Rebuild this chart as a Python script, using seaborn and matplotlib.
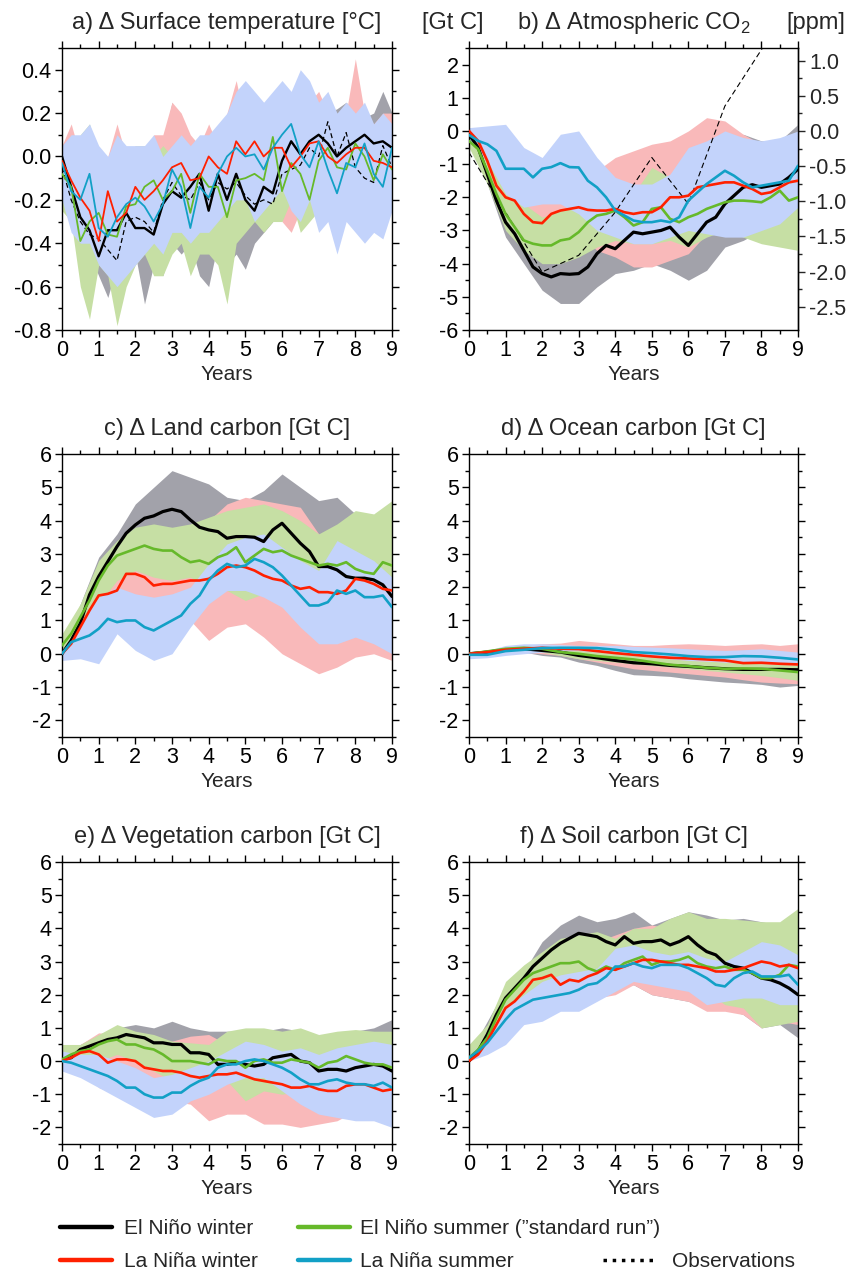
import numpy as np
import pandas as pd
import matplotlib.pyplot as plt
import seaborn as sns
from matplotlib.lines import Line2D
from matplotlib.ticker import MultipleLocator, FixedLocator, FormatStrFormatter

sns.set_theme(style="ticks")
plt.rcParams['font.family'] = ['Liberation Sans', 'DejaVu Sans']
plt.rcParams['mathtext.fontset'] = 'custom'
plt.rcParams['mathtext.rm'] = 'Liberation Sans'
plt.rcParams['axes.unicode_minus'] = False

# ---------------------------------------------------------------
# time axes (years after start)
# ---------------------------------------------------------------
t_q = np.linspace(0, 9, 37)    # quarter-year samples
t_h = np.linspace(0, 9, 19)    # half-year samples
t_y = np.arange(0, 10)         # annual samples (observations in b)

runs = ['El Niño winter', 'El Niño summer (\u201dstandard run\u201d)', 'La Niña winter', 'La Niña summer']
line_colors = ['#000000', '#66b92a', '#ff2000', '#12a0c6']
band_colors = ['#a2a2aa', '#c6dfa4', '#f9b9ba', '#c3d3fb']
band_order = [0, 2, 1, 3]   # gray, pink, green, blue
ppm_ticks = [-2.5, -2.0, -1.5, -1.0, -0.5, 0.0, 0.5, 1.0]

# ---------------------------------------------------------------
# a) surface temperature [degC]
# ---------------------------------------------------------------
a_black = [0.0, -0.14, -0.28, -0.34, -0.46, -0.34, -0.34, -0.26, -0.33, -0.33, -0.36, -0.22, -0.16,
           -0.19, -0.14, -0.08, -0.25, -0.08, -0.2, -0.08, -0.2, -0.25, -0.14, -0.17, -0.02, 0.07,
           0.01, 0.07, 0.1, 0.06, 0.0, 0.04, 0.07, 0.1, 0.06, 0.07, 0.04]
a_green = [-0.08, -0.14, -0.39, -0.3, -0.26, -0.36, -0.37, -0.23, -0.22, -0.14, -0.11, -0.2, -0.16,
           -0.08, -0.26, -0.08, -0.14, -0.14, -0.28, -0.11, -0.1, -0.08, -0.11, 0.09, -0.16, -0.03,
           -0.08, -0.2, -0.02, 0.04, -0.05, -0.06, 0.06, 0.0, -0.11, 0.01, -0.06]
a_red = [-0.02, -0.11, -0.19, -0.25, -0.39, -0.16, -0.3, -0.26, -0.14, -0.2, -0.16, -0.11, -0.05,
         -0.03, -0.11, -0.1, 0.0, -0.05, -0.08, 0.07, 0.01, 0.07, 0.0, 0.04, 0.04, -0.05, 0.0, 0.06,
         0.07, 0.0, -0.03, 0.01, 0.04, 0.04, -0.02, -0.03, -0.05]
a_blue = [-0.03, -0.16, -0.2, -0.08, -0.33, -0.37, -0.28, -0.22, -0.19, -0.23, -0.3, -0.22, -0.06,
          -0.14, -0.33, -0.14, -0.19, -0.08, 0.0, 0.04, 0.0, 0.01, -0.06, 0.04, 0.1, 0.15, 0.01,
          -0.05, 0.07, -0.06, -0.17, -0.03, -0.05, 0.06, -0.08, -0.14, 0.04]
a_obs = [-0.05, -0.2, -0.3, -0.36, -0.38, -0.43, -0.48, -0.3, -0.28, -0.3, -0.35, -0.2, -0.12, -0.18,
         -0.2, -0.12, -0.2, -0.12, -0.15, -0.12, -0.18, -0.22, -0.2, -0.22, -0.08, -0.06, -0.04, 0.04,
         0.0, 0.16, 0.0, 0.11, -0.05, -0.1, -0.12, 0.05, -0.05]
a_lo = [
    [-0.2, -0.3, -0.4, -0.45, -0.55, -0.65, -0.5, -0.48, -0.45, -0.68, -0.5, -0.55, -0.4, -0.45, -0.4,
     -0.55, -0.6, -0.4, -0.5, -0.45, -0.52, -0.4, -0.35, -0.3, -0.2, -0.25, -0.2, -0.15, -0.15, -0.2,
     -0.25, -0.15, -0.2, -0.18, -0.15, -0.2, -0.1],
    [-0.25, -0.3, -0.6, -0.75, -0.5, -0.55, -0.78, -0.6, -0.5, -0.45, -0.55, -0.55, -0.45, -0.4, -0.55,
     -0.45, -0.45, -0.5, -0.68, -0.4, -0.35, -0.3, -0.35, -0.3, -0.3, -0.2, -0.35, -0.3, -0.25, -0.2,
     -0.2, -0.15, -0.25, -0.2, -0.3, -0.25, -0.2],
    [-0.15, -0.25, -0.3, -0.35, -0.45, -0.55, -0.45, -0.5, -0.4, -0.35, -0.45, -0.3, -0.3, -0.25, -0.2,
     -0.25, -0.15, -0.2, -0.15, -0.15, -0.2, -0.25, -0.2, -0.2, -0.3, -0.35, -0.25, -0.2, -0.15, -0.2,
     -0.3, -0.25, -0.3, -0.2, -0.35, -0.2, -0.15],
    [-0.2, -0.35, -0.4, -0.4, -0.5, -0.55, -0.6, -0.55, -0.5, -0.45, -0.4, -0.45, -0.35, -0.35, -0.4,
     -0.35, -0.35, -0.3, -0.25, -0.2, -0.2, -0.3, -0.25, -0.2, -0.15, -0.25, -0.3, -0.2, -0.35, -0.3,
     -0.45, -0.3, -0.35, -0.4, -0.35, -0.38, -0.25],
]
a_hi = [
    [0.05, 0.0, -0.05, -0.1, -0.1, -0.15, -0.1, -0.05, 0.0, -0.05, 0.0, 0.05, 0.25, 0.1, 0.05, 0.05,
     0.1, 0.05, 0.1, 0.1, 0.05, 0.1, 0.1, 0.05, 0.3, 0.25, 0.2, 0.3, 0.15, 0.2, 0.22, 0.25, 0.2, 0.18,
     0.2, 0.3, 0.2],
    [0.05, 0.05, 0.1, 0.15, 0.0, -0.05, -0.05, -0.05, 0.05, 0.05, 0.0, 0.05, 0.0, -0.05, 0.0, -0.05,
     0.0, 0.05, -0.05, 0.0, 0.05, 0.2, 0.25, 0.15, 0.1, 0.05, 0.05, 0.05, 0.1, 0.1, 0.05, 0.1, 0.1,
     0.1, 0.05, 0.1, 0.05],
    [0.05, 0.15, 0.0, 0.0, -0.05, 0.0, 0.15, 0.0, 0.05, 0.0, 0.1, 0.1, 0.25, 0.2, 0.1, 0.05, 0.15,
     0.05, 0.2, 0.35, 0.15, 0.1, 0.05, 0.1, 0.3, 0.25, 0.2, 0.25, 0.3, 0.2, 0.15, 0.2, 0.45, 0.2, 0.15,
     0.2, 0.2],
    [0.05, 0.1, 0.1, 0.15, 0.05, 0.0, 0.1, 0.05, 0.05, 0.05, 0.1, 0.0, 0.05, 0.1, 0.05, 0.1, 0.1, 0.15,
     0.2, 0.3, 0.35, 0.3, 0.25, 0.3, 0.35, 0.3, 0.4, 0.35, 0.25, 0.3, 0.2, 0.25, 0.2, 0.25, 0.15, 0.2,
     0.15],
]

# ---------------------------------------------------------------
# b) atmospheric CO2 [Gt C]
# ---------------------------------------------------------------
b_black = [-0.1, -0.5, -1.3, -2.1, -2.75, -3.1, -3.6, -4.1, -4.3, -4.4, -4.3, -4.32, -4.3, -4.1, -3.7,
           -3.45, -3.55, -3.3, -3.05, -3.1, -3.05, -3.0, -2.9, -3.2, -3.45, -3.1, -2.75, -2.6, -2.2,
           -1.95, -1.7, -1.62, -1.7, -1.65, -1.6, -1.4, -1.15]
b_green = [-0.3, -0.55, -1.2, -1.9, -2.5, -2.9, -3.3, -3.4, -3.45, -3.45, -3.3, -3.25, -3.05, -2.75,
           -2.55, -2.5, -2.4, -2.6, -2.85, -2.75, -2.35, -2.3, -2.65, -2.75, -2.6, -2.5, -2.35, -2.25,
           -2.15, -2.1, -2.1, -2.12, -2.15, -2.0, -1.8, -2.1, -2.0]
b_red = [0.0, -0.3, -0.9, -1.65, -2.0, -2.1, -2.5, -2.75, -2.78, -2.5, -2.4, -2.35, -2.3, -2.38, -2.4,
         -2.4, -2.35, -2.45, -2.5, -2.45, -2.45, -2.3, -2.0, -2.0, -1.95, -1.7, -1.65, -1.6, -1.55,
         -1.55, -1.65, -1.75, -1.9, -1.85, -1.7, -1.55, -1.5]
b_blue = [-0.12, -0.3, -0.4, -0.6, -1.14, -1.14, -1.14, -1.4, -1.14, -1.09, -0.97, -1.09, -1.1, -1.5,
          -1.7, -2.0, -2.4, -2.55, -2.7, -2.75, -2.75, -2.7, -2.75, -2.6, -2.1, -1.85, -1.6, -1.4, -1.2,
          -1.35, -1.55, -1.7, -1.65, -1.6, -1.55, -1.5, -1.05]
b_obs = [-0.65, -2.45, -4.25, -3.75, -2.45, -0.8, -2.2, 0.75, 2.45, 4.2]
b_lo = [
    [-0.2, -1.6, -3.2, -4.0, -4.8, -5.2, -5.2, -4.7, -4.3, -4.2, -4.0, -4.2, -4.5, -4.2, -3.5, -3.3, -3.0, -2.8, -2.6],
    [-0.5, -1.6, -3.0, -3.6, -4.0, -4.0, -3.8, -3.5, -3.3, -3.4, -3.4, -3.3, -3.5, -3.2, -3.0, -3.2, -3.4, -3.5, -3.6],
    [-0.2, -1.3, -2.6, -3.0, -3.0, -3.0, -3.1, -3.6, -3.8, -4.1, -4.1, -3.9, -3.7, -3.1, -3.0, -2.9, -2.7, -2.5, -2.3],
    [-0.3, -0.9, -1.9, -2.3, -2.2, -2.2, -2.5, -3.0, -3.2, -3.4, -3.4, -3.2, -3.0, -3.1, -3.2, -3.2, -3.0, -2.8, -2.3],
]
b_hi = [
    [0.0, -0.6, -1.7, -2.5, -3.3, -3.4, -3.4, -2.8, -2.5, -2.2, -2.1, -2.0, -2.3, -1.6, -0.8, -0.1, -0.3, -0.3, 0.2],
    [-0.2, -0.9, -1.8, -2.2, -2.6, -2.4, -2.2, -2.1, -1.5, -1.9, -1.1, -1.4, -1.8, -1.0, -0.6, -0.2, -0.4, -0.6, -0.5],
    [0.1, -0.6, -1.3, -1.6, -1.6, -1.9, -1.9, -1.2, -0.8, -0.6, -0.4, -0.3, 0.0, 0.4, 0.3, -0.1, -0.4, -0.3, -0.1],
    [0.1, 0.15, 0.2, -0.5, -0.8, -0.1, 0.0, -0.8, -1.4, -1.6, -1.6, -1.3, -0.5, -0.3, 0.0, -0.2, -0.3, -0.2, 0.0],
]

# ---------------------------------------------------------------
# c) land carbon [Gt C]
# ---------------------------------------------------------------
c_black = [0.0, 0.4, 0.92, 1.77, 2.32, 2.77, 3.22, 3.62, 3.87, 4.07, 4.14, 4.27, 4.34, 4.27, 4.02, 3.8,
           3.72, 3.67, 3.47, 3.52, 3.52, 3.5, 3.37, 3.72, 3.92, 3.62, 3.32, 3.07, 2.62, 2.62, 2.52,
           2.32, 2.27, 2.27, 2.22, 2.07, 1.72]
c_green = [0.25, 0.6, 1.1, 1.6, 2.2, 2.65, 2.95, 3.05, 3.15, 3.25, 3.15, 3.1, 3.1, 2.9, 2.75, 2.8, 2.7,
           2.9, 3.0, 3.2, 2.75, 2.95, 3.15, 3.05, 3.1, 2.95, 2.85, 2.75, 2.65, 2.7, 2.65, 2.75, 2.55,
           2.45, 2.4, 2.75, 2.65]
c_red = [0.0, 0.3, 0.8, 1.3, 1.75, 1.8, 1.9, 2.4, 2.4, 2.3, 2.05, 2.1, 2.1, 2.15, 2.2, 2.2, 2.25, 2.4,
         2.6, 2.65, 2.6, 2.5, 2.35, 2.25, 2.2, 2.05, 1.95, 2.0, 1.85, 1.85, 1.8, 1.9, 2.25, 2.2, 2.1,
         1.95, 1.9]
c_blue = [0.0, 0.35, 0.45, 0.55, 0.75, 1.05, 0.95, 1.0, 1.0, 0.8, 0.7, 0.85, 1.0, 1.15, 1.5, 1.75, 2.2,
          2.5, 2.7, 2.6, 2.65, 2.85, 2.75, 2.6, 2.35, 2.05, 1.75, 1.45, 1.45, 1.55, 1.9, 1.8, 1.9, 1.7,
          1.7, 1.75, 1.4]
c_lo = [
    [0.0, 0.6, 1.8, 2.7, 3.0, 3.3, 3.5, 3.2, 2.6, 2.4, 2.3, 2.2, 2.4, 1.9, 1.2, 0.9, 0.5, 0.4, -0.2],
    [0.0, 0.4, 1.5, 2.2, 2.5, 2.3, 2.2, 2.3, 2.0, 1.9, 1.6, 1.8, 1.8, 2.1, 2.5, 2.4, 2.3, 2.0, 1.8],
    [-0.1, 0.3, 1.0, 1.4, 1.5, 1.6, 1.4, 1.0, 0.4, 0.8, 0.9, 0.5, 0.0, -0.3, -0.6, -0.4, -0.1, 0.0, -0.2],
    [-0.2, -0.15, -0.3, 0.6, 0.1, -0.2, 0.0, 0.8, 1.5, 1.9, 1.9, 1.7, 1.4, 0.8, 0.3, 0.3, 0.5, 0.3, 0.0],
]
c_hi = [
    [0.2, 1.5, 2.9, 3.6, 4.5, 5.0, 5.5, 5.3, 5.1, 4.7, 4.6, 4.9, 5.4, 5.0, 4.6, 4.7, 4.2, 4.0, 3.5],
    [0.6, 1.5, 2.8, 3.4, 3.8, 3.9, 3.8, 3.9, 4.1, 4.3, 4.4, 4.5, 4.3, 4.0, 3.6, 3.9, 4.3, 4.2, 4.6],
    [0.1, 0.9, 1.9, 2.5, 2.7, 2.5, 2.3, 3.0, 4.0, 4.5, 4.7, 4.6, 4.5, 4.4, 3.6, 3.4, 3.0, 2.8, 2.5],
    [0.1, 0.9, 1.7, 2.0, 1.8, 1.7, 1.8, 2.0, 2.7, 3.3, 3.5, 3.6, 3.2, 2.8, 2.5, 3.4, 3.1, 2.8, 2.3],
]

# ---------------------------------------------------------------
# d) ocean carbon [Gt C]  (half-year samples)
# ---------------------------------------------------------------
d_black = [0.0, 0.05, 0.12, 0.15, 0.1, 0.05, -0.05, -0.12, -0.2, -0.27, -0.3, -0.35, -0.38, -0.42, -0.45, -0.47, -0.47, -0.47, -0.48]
d_green = [0.0, 0.07, 0.15, 0.18, 0.15, 0.05, 0.0, -0.07, -0.12, -0.17, -0.25, -0.33, -0.37, -0.42, -0.45, -0.44, -0.45, -0.5, -0.55]
d_red = [0.0, 0.05, 0.12, 0.15, 0.18, 0.15, 0.14, 0.08, 0.02, -0.03, -0.08, -0.12, -0.14, -0.17, -0.2, -0.28, -0.27, -0.3, -0.32]
d_blue = [-0.03, -0.03, 0.08, 0.12, 0.17, 0.18, 0.18, 0.17, 0.12, 0.05, 0.02, -0.02, -0.07, -0.1, -0.1, -0.07, -0.08, -0.12, -0.17]
d_lo = [
    [-0.05, 0.0, 0.05, 0.05, -0.05, -0.1, -0.25, -0.35, -0.5, -0.63, -0.65, -0.68, -0.75, -0.8, -0.85, -0.88, -0.92, -1.0, -0.95],
    [-0.05, 0.0, 0.1, 0.12, 0.05, -0.05, -0.15, -0.2, -0.25, -0.3, -0.35, -0.4, -0.45, -0.5, -0.55, -0.6, -0.65, -0.72, -0.8],
    [-0.05, 0.0, 0.05, 0.05, 0.0, -0.05, -0.15, -0.25, -0.35, -0.45, -0.5, -0.55, -0.6, -0.65, -0.7, -0.78, -0.85, -0.88, -0.9],
    [-0.15, -0.12, -0.05, 0.0, 0.05, 0.08, 0.1, 0.05, 0.0, -0.05, -0.1, -0.15, -0.2, -0.22, -0.25, -0.25, -0.25, -0.28, -0.3],
]
d_hi = [
    [0.05, 0.1, 0.15, 0.2, 0.15, 0.1, 0.0, -0.05, -0.1, -0.15, -0.2, -0.25, -0.25, -0.3, -0.3, -0.35, -0.35, -0.35, -0.35],
    [0.05, 0.12, 0.2, 0.22, 0.2, 0.15, 0.1, 0.05, 0.0, -0.05, -0.1, -0.15, -0.2, -0.22, -0.25, -0.28, -0.3, -0.32, -0.35],
    [0.05, 0.1, 0.2, 0.25, 0.3, 0.32, 0.4, 0.35, 0.3, 0.25, 0.25, 0.28, 0.3, 0.28, 0.25, 0.28, 0.3, 0.25, 0.3],
    [0.0, 0.1, 0.25, 0.3, 0.3, 0.28, 0.25, 0.25, 0.25, 0.22, 0.2, 0.18, 0.15, 0.12, 0.1, 0.12, 0.15, 0.1, 0.05],
]

# ---------------------------------------------------------------
# e) vegetation carbon [Gt C]
# ---------------------------------------------------------------
e_black = [0.05, 0.1, 0.35, 0.45, 0.55, 0.65, 0.7, 0.8, 0.75, 0.7, 0.55, 0.55, 0.5, 0.5, 0.25, 0.25, 0.2,
           -0.1, -0.1, -0.05, -0.1, -0.15, -0.1, 0.1, 0.15, 0.2, 0.0, -0.05, -0.3, -0.25, -0.25, -0.3,
           -0.2, -0.15, -0.1, -0.15, -0.3]
e_green = [0.05, 0.2, 0.3, 0.35, 0.5, 0.6, 0.65, 0.5, 0.5, 0.4, 0.35, 0.2, 0.0, 0.0, 0.0, -0.05, -0.1,
           0.05, 0.0, 0.0, -0.2, 0.0, 0.05, -0.05, -0.05, 0.05, 0.0, -0.05, -0.2, -0.05, 0.0, 0.15,
           0.05, -0.05, -0.1, -0.1, -0.2]
e_red = [0.0, 0.1, 0.25, 0.3, 0.2, -0.05, 0.05, 0.05, 0.0, -0.2, -0.25, -0.3, -0.3, -0.35, -0.45, -0.5,
         -0.45, -0.4, -0.4, -0.35, -0.45, -0.55, -0.6, -0.65, -0.7, -0.8, -0.8, -0.75, -0.85, -0.9, -0.9,
         -0.75, -0.7, -0.7, -0.8, -0.9, -0.85]
e_blue = [0.0, -0.05, -0.15, -0.25, -0.35, -0.45, -0.6, -0.8, -0.8, -1.0, -1.1, -1.1, -0.95, -0.95, -0.75,
          -0.6, -0.5, -0.2, -0.1, -0.1, 0.0, 0.05, 0.0, -0.1, -0.2, -0.35, -0.55, -0.7, -0.7, -0.6, -0.55,
          -0.65, -0.7, -0.7, -0.75, -0.65, -0.8]
e_lo = [
    [-0.2, 0.1, 0.2, 0.3, 0.4, 0.3, 0.3, 0.0, -0.5, -0.6, -0.7, -0.8, -0.8, -0.9, -1.0, -1.1, -1.2, -1.3, -1.4],
    [-0.3, -0.15, 0.0, 0.2, 0.0, -0.3, -0.6, -0.7, -0.8, -0.6, -1.2, -0.9, -1.0, -0.9, -0.8, -0.7, -0.8, -0.9, -1.0],
    [-0.2, -0.1, -0.8, -1.0, -0.9, -0.9, -1.2, -1.3, -1.8, -1.6, -1.6, -1.9, -1.9, -2.0, -1.9, -1.8, -1.5, -1.4, -1.4],
    [-0.3, -0.5, -0.8, -1.1, -1.4, -1.7, -1.6, -1.2, -1.0, -0.7, -0.5, -0.5, -0.9, -1.3, -1.6, -1.7, -1.8, -1.8, -2.0],
]
e_hi = [
    [0.3, 0.5, 0.8, 1.0, 1.1, 1.0, 1.2, 1.0, 0.9, 0.9, 0.9, 0.9, 1.0, 0.9, 0.7, 0.8, 0.9, 1.0, 1.25],
    [0.5, 0.5, 0.8, 1.1, 0.9, 0.8, 0.6, 0.55, 0.5, 0.9, 1.0, 1.0, 0.9, 1.0, 0.8, 0.9, 0.95, 0.9, 0.9],
    [0.2, 0.5, 0.85, 0.8, 0.6, 0.5, 0.6, 0.75, 0.8, 0.5, 0.3, 0.2, 0.1, 0.0, -0.2, -0.3, -0.4, -0.5, -0.4],
    [0.3, 0.2, 0.2, 0.0, -0.2, -0.5, -0.4, -0.2, 0.0, 0.3, 0.6, 0.5, 0.3, 0.4, 0.2, 0.4, 0.5, 0.6, 0.5],
]

# ---------------------------------------------------------------
# f) soil carbon [Gt C]
# ---------------------------------------------------------------
f_black = [0.0, 0.3, 0.8, 1.4, 1.9, 2.2, 2.5, 2.85, 3.1, 3.35, 3.55, 3.7, 3.85, 3.8, 3.75, 3.6, 3.5, 3.75,
           3.55, 3.6, 3.6, 3.65, 3.5, 3.6, 3.75, 3.5, 3.3, 3.2, 2.95, 2.85, 2.8, 2.65, 2.5, 2.45, 2.35,
           2.2, 2.0]
f_green = [0.1, 0.35, 0.7, 1.3, 1.85, 2.15, 2.45, 2.65, 2.75, 2.85, 2.95, 2.95, 3.0, 2.8, 2.7, 2.85, 2.75,
           2.95, 3.05, 3.15, 2.9, 3.0, 3.0, 3.05, 3.15, 2.95, 2.85, 2.8, 2.85, 2.75, 2.75, 2.65, 2.5,
           2.5, 2.6, 2.9, 2.85]
f_red = [0.0, 0.2, 0.6, 1.1, 1.6, 1.8, 2.1, 2.45, 2.5, 2.6, 2.3, 2.45, 2.4, 2.55, 2.65, 2.8, 2.75, 2.85,
         2.95, 3.05, 3.05, 3.0, 2.95, 2.9, 2.9, 2.85, 2.8, 2.7, 2.7, 2.75, 2.8, 2.9, 3.0, 2.95, 2.85,
         2.9, 2.8]
f_blue = [0.1, 0.3, 0.55, 0.9, 1.25, 1.55, 1.7, 1.85, 1.9, 1.95, 2.0, 2.05, 2.15, 2.3, 2.35, 2.55, 2.85,
          2.85, 2.95, 2.85, 2.8, 2.9, 2.9, 2.9, 2.8, 2.65, 2.5, 2.3, 2.25, 2.5, 2.65, 2.7, 2.55, 2.55,
          2.55, 2.6, 2.3]
f_lo = [
    [0.0, 0.5, 1.3, 1.8, 2.2, 2.3, 2.4, 2.3, 2.2, 2.3, 2.0, 1.9, 1.8, 1.6, 1.6, 1.4, 1.0, 1.1, 0.7],
    [0.0, 0.4, 1.2, 1.9, 2.4, 2.4, 2.3, 2.1, 2.1, 2.5, 2.5, 2.3, 2.2, 2.1, 1.7, 1.6, 1.0, 1.1, 1.2],
    [0.0, 0.3, 0.9, 1.3, 1.7, 1.9, 2.0, 1.9, 2.0, 2.3, 2.0, 1.9, 1.8, 1.5, 1.5, 1.4, 1.0, 1.2, 1.1],
    [0.0, 0.2, 0.5, 1.1, 1.2, 1.5, 1.5, 1.8, 2.1, 2.4, 2.3, 2.2, 2.1, 1.7, 1.8, 1.9, 1.9, 1.7, 1.7],
]
f_hi = [
    [0.2, 1.2, 2.2, 2.7, 3.6, 4.1, 4.4, 4.2, 4.3, 4.5, 4.1, 4.3, 4.5, 4.4, 4.25, 4.3, 4.2, 4.1, 4.2],
    [0.5, 1.1, 2.4, 2.9, 3.3, 3.7, 3.8, 3.9, 3.7, 4.0, 4.0, 4.3, 4.5, 4.3, 4.3, 4.25, 4.2, 4.2, 4.6],
    [0.1, 0.9, 1.9, 2.3, 2.8, 3.1, 3.5, 3.6, 3.8, 4.0, 4.1, 4.0, 3.9, 3.7, 3.6, 3.5, 3.5, 3.5, 3.3],
    [0.2, 0.7, 1.6, 2.0, 2.4, 2.6, 2.7, 2.8, 3.4, 3.5, 3.3, 3.2, 3.3, 3.1, 3.0, 3.3, 3.6, 3.5, 3.2],
]

# ---------------------------------------------------------------
# figure layout (pixel boxes of the six panels)
# ---------------------------------------------------------------
W, H = 849, 1271
fig = plt.figure(figsize=(W / 100, H / 100), dpi=100)

TICK_FS = 15.5
TITLE_FS = 17


def box(l, t, r, b):
    return [l / W, 1 - b / H, (r - l) / W, (b - t) / H]


ax_a = fig.add_axes(box(62, 48, 392, 330))
ax_b = fig.add_axes(box(469, 48, 798, 330))
ax_c = fig.add_axes(box(62, 454, 392, 737))
ax_d = fig.add_axes(box(469, 454, 798, 737))
ax_e = fig.add_axes(box(62, 862, 392, 1144))
ax_f = fig.add_axes(box(469, 862, 798, 1144))


def draw_panel(ax, t_line, lines, t_band, lo, hi, lw):
    for k in band_order:
        ax.fill_between(t_band, lo[k], hi[k], color=band_colors[k], lw=0, zorder=1)
    for k in range(4):
        sns.lineplot(x=t_line, y=lines[k], ax=ax, color=line_colors[k],
                     lw=lw + (0.4 if k == 0 else 0), zorder=3 + k)


def style(ax, ylim, ymaj, ymin, right=True):
    ax.set_xlim(0, 9)
    ax.set_ylim(*ylim)
    ax.xaxis.set_major_locator(MultipleLocator(1))
    ax.xaxis.set_minor_locator(MultipleLocator(0.5))
    ax.yaxis.set_major_locator(MultipleLocator(ymaj))
    ax.yaxis.set_minor_locator(MultipleLocator(ymin))
    ax.tick_params(which='both', direction='out', top=True, right=right,
                   labelsize=TICK_FS, width=1, color='black', labelcolor='black')
    ax.tick_params(which='major', length=5)
    ax.tick_params(which='minor', length=3)
    ax.tick_params(axis='x', pad=2)
    ax.tick_params(axis='y', pad=2.5)
    ax.set_xlabel('Years', fontsize=15, labelpad=3)
    ax.set_ylabel('')
    for s in ax.spines.values():
        s.set_linewidth(1.0)
        s.set_color('black')


def title(ax, text):
    ax.annotate(text, xy=(0.5, 1), xycoords='axes fraction', xytext=(0, 14),
                textcoords='offset points', ha='center', va='baseline', fontsize=TITLE_FS)


# a) surface temperature
draw_panel(ax_a, t_q, [a_black, a_green, a_red, a_blue], t_q, a_lo, a_hi, 1.3)
sns.lineplot(x=t_q, y=a_obs, ax=ax_a, color='black', lw=0.9, linestyle=(0, (4, 2.5)), zorder=2.5)
style(ax_a, (-0.8, 0.5), 0.2, 0.1)
ax_a.yaxis.set_major_formatter(FormatStrFormatter('%.1f'))
title(ax_a, 'a) \u0394 Surface temperature [\u00b0C]')

# b) atmospheric CO2
draw_panel(ax_b, t_q, [b_black, b_green, b_red, b_blue], t_h, b_lo, b_hi, 1.9)
sns.lineplot(x=t_y, y=b_obs, ax=ax_b, color='black', lw=0.8, linestyle=(0, (5, 3)), zorder=2.5)
style(ax_b, (-6, 2.5), 1, 0.5, right=False)
title(ax_b, 'b) \u0394 Atmospheric CO$_{2}$')
ax_b.annotate('[Gt C]', xy=(0, 1), xycoords='axes fraction', xytext=(-34, 14),
              textcoords='offset points', ha='left', va='baseline', fontsize=TITLE_FS)
ax_b.annotate('[ppm]', xy=(1, 1), xycoords='axes fraction', xytext=(34, 14),
              textcoords='offset points', ha='right', va='baseline', fontsize=TITLE_FS)
sec = ax_b.secondary_yaxis('right', functions=(lambda v: v / 2.12, lambda v: v * 2.12))
sec.yaxis.set_major_locator(FixedLocator(ppm_ticks))
sec.yaxis.set_minor_locator(FixedLocator([v + 0.25 for v in ppm_ticks]))
sec.yaxis.set_major_formatter(FormatStrFormatter('%.1f'))
sec.tick_params(which='both', direction='out', labelsize=TICK_FS, width=1, pad=3)
sec.tick_params(which='major', length=5)
sec.tick_params(which='minor', length=3)
sec.spines['right'].set_linewidth(1.0)

# c) - f) carbon pools
draw_panel(ax_c, t_q, [c_black, c_green, c_red, c_blue], t_h, c_lo, c_hi, 1.9)
style(ax_c, (-2.5, 6), 1, 0.5)
title(ax_c, 'c) \u0394 Land carbon [Gt C]')

draw_panel(ax_d, t_h, [d_black, d_green, d_red, d_blue], t_h, d_lo, d_hi, 1.9)
style(ax_d, (-2.5, 6), 1, 0.5)
title(ax_d, 'd) \u0394 Ocean carbon [Gt C]')

draw_panel(ax_e, t_q, [e_black, e_green, e_red, e_blue], t_h, e_lo, e_hi, 1.9)
style(ax_e, (-2.5, 6), 1, 0.5)
title(ax_e, 'e) \u0394 Vegetation carbon [Gt C]')

draw_panel(ax_f, t_q, [f_black, f_green, f_red, f_blue], t_h, f_lo, f_hi, 1.9)
style(ax_f, (-2.5, 6), 1, 0.5)
title(ax_f, 'f) \u0394 Soil carbon [Gt C]')

# ---------------------------------------------------------------
# legend (three stacked columns below the panels)
# ---------------------------------------------------------------
leg_kw = dict(loc='center left', frameon=False, fontsize=15, handlelength=2.5,
              labelspacing=0.66, borderpad=0, borderaxespad=0)
h = [Line2D([], [], color=c, lw=3.2) for c in line_colors]
fig.legend([h[0], h[2]], [runs[0], runs[2]], bbox_to_anchor=(60 / W, 1 - 1245 / H),
           handletextpad=0.58, **leg_kw)
fig.legend([h[1], h[3]], [runs[1], runs[3]], bbox_to_anchor=(298 / W, 1 - 1245 / H),
           handletextpad=0.5, **leg_kw)
fig.legend([Line2D([], [], color='none'), Line2D([], [], color='black', lw=2.5, ls=':')],
           [' ', 'Observations'], bbox_to_anchor=(603 / W, 1 - 1245 / H),
           handletextpad=0.8, **leg_kw)

fig.savefig('out.png', dpi=100)
